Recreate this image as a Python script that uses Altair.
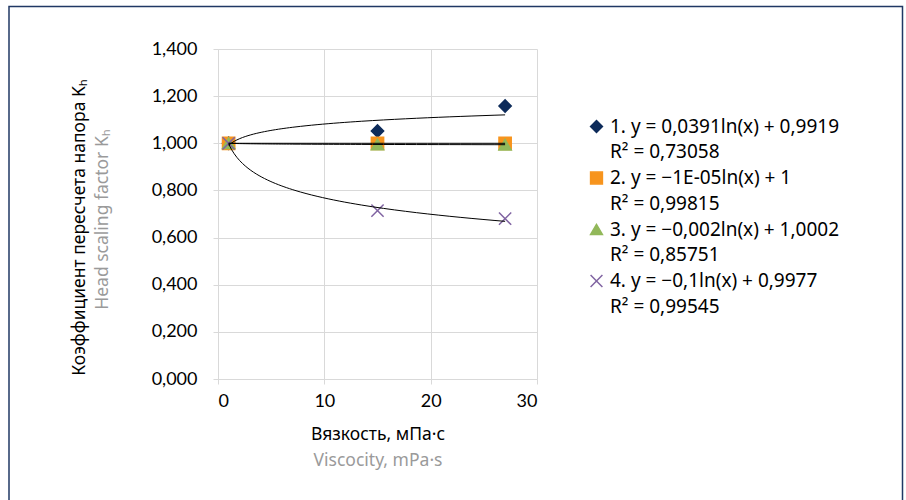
import altair as alt
import pandas as pd

# ---- data ----
viscosity = [1, 15, 27]
k_series1 = [1.000, 1.052, 1.158]
k_series2 = [1.000, 1.000, 1.000]
k_series3 = [1.000, 0.995, 0.994]
k_series4 = [1.000, 0.714, 0.680]

series_labels = [
    "1. y = 0,0391ln(x) + 0,9919|R² = 0,73058",
    "2. y = −1E-05ln(x) + 1|R² = 0,99815",
    "3. y = −0,002ln(x) + 1,0002|R² = 0,85751",
    "4. y = −0,1ln(x) + 0,9977|R² = 0,99545",
]
shapes = ["diamond", "square", "triangle-up", "M-1,-1L1,1M-1,1L1,-1"]
colors = ["#0d2b5a", "#f7941d", "#92b85a", "#8064a2"]

x_ticks = [0, 10, 20, 30]
y_ticks = [0.0, 0.2, 0.4, 0.6, 0.8, 1.0, 1.2, 1.4]

rows = []
for lab, vals in zip(series_labels, [k_series1, k_series2, k_series3, k_series4]):
    for xv, yv in zip(viscosity, vals):
        rows.append({"series": lab, "x": xv, "y": yv})
df = pd.DataFrame(rows)

GRID = "#d9d9d9"
GRAY = "#9a9a9a"

legend = alt.Legend(
    orient="none", legendX=369, legendY=68, title=None,
    labelExpr="split(datum.label, '|')",
    labelFont="Noto Sans", labelFontSize=19,
    labelLimit=320, labelColor="#000000", labelBaseline="middle",
    symbolSize=140, symbolStrokeWidth=1.5, rowPadding=6.5, labelOffset=4, padding=0,
)

xscale = alt.Scale(domain=[0, 30], nice=False)
yscale = alt.Scale(domain=[0, 1.4], nice=False)

x_main = alt.X("x:Q", scale=xscale, axis=alt.Axis(
    values=x_ticks, title="Вязкость, мПа·с", tickSize=5, labelPadding=8,
    titlePadding=15, gridColor=GRID, domainColor=GRID, tickColor=GRID))
y_main = alt.Y("y:Q", scale=yscale, axis=alt.Axis(
    values=y_ticks, title="Коэффициент пересчета напора Kₕ", tickSize=5,
    labelPadding=16, titlePadding=63, titleY=178,
    labelExpr="replace(format(datum.value, '.3f'), '.', ',')",
    gridColor=GRID, domainColor=GRID, tickColor=GRID))

points = alt.Chart(df).mark_point(filled=True, strokeWidth=1.5, opacity=1, size=150).encode(
    x=x_main, y=y_main,
    shape=alt.Shape("series:N", scale=alt.Scale(domain=series_labels, range=shapes), legend=legend),
    fill=alt.Fill("series:N", scale=alt.Scale(domain=series_labels, range=colors), legend=legend),
    stroke=alt.Stroke("series:N", scale=alt.Scale(domain=series_labels, range=colors), legend=legend),
    order=alt.Order("series:N"),
)

trend = alt.Chart(df).transform_regression(
    "x", "y", groupby=["series"], method="log"
).mark_line(color="black", strokeWidth=1).encode(
    x="x:Q", y="y:Q", detail="series:N"
)

frame = alt.Chart(alt.Data(values=[{}])).mark_rect(
    filled=False, stroke="#203864", strokeWidth=1.5
).encode(x=alt.value(-209), x2=alt.value(684.5), y=alt.value(-42.5), y2=alt.value(470))

inner = alt.layer(frame, points, trend)

ghost = alt.Chart(df).mark_point(opacity=0).encode(
    x=alt.X("x:Q", scale=xscale, axis=alt.Axis(
        orient="bottom", title="Viscocity, mPa·s", titleColor=GRAY, labels=False,
        ticks=False, domain=False, grid=False, titlePadding=72)),
    y=alt.Y("y:Q", scale=yscale, axis=alt.Axis(
        orient="left", title="Head scaling factor Kₕ", titleColor=GRAY, labels=False,
        ticks=False, domain=False, grid=False, titlePadding=107, titleY=170)),
)

chart = alt.layer(inner, ghost).resolve_scale(x="independent", y="independent").properties(
    width=319, height=330,
    autosize=alt.AutoSizeParams(type="none"),
    padding={"left": 218, "top": 49, "right": 369, "bottom": 121},
).configure(
    background="white",
    style={"guide-label": {"lineHeight": 25.5}},
).configure_view(stroke=None).configure_axis(
    labelFont="Lato", labelFontSize=18, labelColor="#000000",
    titleFont="Noto Sans", titleFontSize=17.5, titleFontWeight="normal", titleColor="#000000",
)

chart.save("out.html", embed_options={"renderer": "svg", "actions": False})
